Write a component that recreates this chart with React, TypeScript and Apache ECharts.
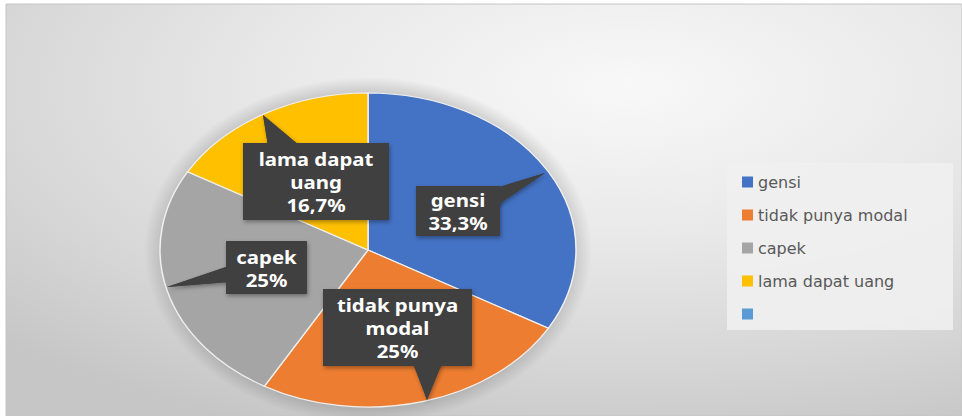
import React, { useEffect, useRef } from "react";
import * as echarts from "echarts";

// ---- data ----
const categories = ["gensi", "tidak punya modal", "capek", "lama dapat uang", "\u00a0"];
const values = [33.3, 25, 25, 16.7, 0];
const colors = ["#4472C4", "#ED7D31", "#A5A5A5", "#FFC000", "#5B9BD5"];

// ---- layout (not data) ----
const PIE_CX = 368;
const PIE_CY = 250;
const PIE_RX = 208;
const PIE_RY = 157;
const HALO = 16;

// callout boxes placed by hand as in the original (one per category)
const calloutBoxes = [
  { x: 416, y: 186, w: 84, h: 50, pointer: [[496, 188], [545, 173], [496, 206]] },
  { x: 323, y: 289, w: 149, h: 77, pointer: [[413, 363], [427, 400], [442, 363]] },
  { x: 226, y: 241, w: 81, h: 53, pointer: [[229, 266], [167, 287], [229, 282]] },
  { x: 243, y: 143, w: 146, h: 77, pointer: [[268, 146], [263, 115], [300, 146]] },
];

function wrapLabel(name: string, max = 11): string {
  const words = name.split(" ");
  const lines: string[] = [];
  let cur = "";
  for (const w of words) {
    if (cur && (cur + " " + w).length > max) {
      lines.push(cur);
      cur = w;
    } else {
      cur = cur ? cur + " " + w : w;
    }
  }
  if (cur) lines.push(cur);
  return lines.join("\n");
}

function fmtPct(v: number): string {
  return (Number.isInteger(v) ? String(v) : v.toFixed(1).replace(".", ",")) + "%";
}

export default function App() {
  const ref = useRef<HTMLDivElement>(null);

  useEffect(() => {
    if (!ref.current) return;
    const chart = echarts.init(ref.current, undefined, { renderer: "svg" });
    const total = values.reduce((a, b) => a + b, 0);

    const boxShadow = {
      shadowBlur: 4,
      shadowOffsetX: 1,
      shadowOffsetY: 2,
      shadowColor: "rgba(0,0,0,0.35)",
    };

    const calloutElements: any[] = [];
    calloutBoxes.forEach((b, i) => {
      if (!values[i]) return;
      calloutElements.push({
        type: "polygon",
        z: 50,
        shape: { points: b.pointer },
        style: { fill: "#404040", ...boxShadow },
      });
      calloutElements.push({
        type: "rect",
        z: 51,
        shape: { x: b.x, y: b.y, width: b.w, height: b.h },
        style: { fill: "#404040", ...boxShadow },
      });
      calloutElements.push({
        type: "polygon",
        z: 52,
        shape: { points: b.pointer },
        style: { fill: "#404040" },
      });
      calloutElements.push({
        type: "text",
        z: 53,
        x: b.x + b.w / 2,
        y: b.y + b.h / 2 + 1,
        scaleX: 1.2,
        style: {
          text: wrapLabel(categories[i]) + "\n" + fmtPct(values[i]),
          fill: "#ffffff",
          font: 'bold 17px "Noto Sans"',
          lineHeight: 23,
          align: "center",
          verticalAlign: "middle",
          textAlign: "center",
          textVerticalAlign: "middle",
        },
      });
    });

    const haloEdge = PIE_RX / (PIE_RX + HALO);

    chart.setOption({
      animation: false,
      color: colors,
      legend: {
        orient: "vertical",
        left: 742,
        top: 174,
        padding: 0,
        itemWidth: 11,
        itemHeight: 11,
        itemGap: 17,
        icon: "rect",
        selectedMode: false,
        data: categories,
        textStyle: {
          fontFamily: "DejaVu Sans",
          fontSize: 16,
          lineHeight: 16,
          color: "#595959",
        },
      },
      graphic: [
        {
          type: "rect",
          z: -10,
          shape: { x: 6, y: 4, width: 956, height: 412 },
          style: {
            fill: {
              type: "radial",
              x: 0.65,
              y: 0.2,
              r: 0.9,
              colorStops: [
                { offset: 0, color: "#f8f8f8" },
                { offset: 0.4, color: "#e9e9e9" },
                { offset: 0.75, color: "#d6d6d6" },
                { offset: 1, color: "#c6c6c6" },
              ],
            },
            stroke: "#c4c4c4",
            lineWidth: 1,
          },
        },
        {
          type: "ellipse",
          z: -6,
          shape: { cx: PIE_CX, cy: PIE_CY, rx: PIE_RX + HALO, ry: PIE_RY + HALO },
          style: {
            fill: {
              type: "radial",
              x: 0.5,
              y: 0.5,
              r: 0.5,
              colorStops: [
                { offset: 0, color: "rgba(0,0,0,0.15)" },
                { offset: haloEdge - 0.01, color: "rgba(0,0,0,0.13)" },
                { offset: 1, color: "rgba(0,0,0,0)" },
              ],
            },
          },
        },
        {
          type: "rect",
          z: -5,
          shape: { x: 727, y: 163, width: 226, height: 167 },
          style: { fill: "rgba(240,240,240,0.9)" },
        },
        ...calloutElements,
      ],
      series: [
        {
          type: "custom",
          name: "pie",
          coordinateSystem: "none",
          data: values,
          z: 2,
          renderItem: (params: any, api: any) => {
            const idx = params.dataIndex;
            const v = api.value(0);
            if (!v) return null;
            let before = 0;
            for (let k = 0; k < idx; k++) before += values[k];
            const start = -Math.PI / 2 + (before / total) * Math.PI * 2;
            const end = start + (v / total) * Math.PI * 2;
            return {
              type: "sector",
              x: PIE_CX,
              y: PIE_CY,
              scaleY: PIE_RY / PIE_RX,
              shape: { cx: 0, cy: 0, r0: 0, r: PIE_RX, startAngle: start, endAngle: end, clockwise: true },
              style: {
                fill: colors[idx],
                stroke: "#f0f0f0",
                lineWidth: 1.5,
                strokeNoScale: true,
              },
            };
          },
        },
        {
          type: "pie",
          name: "legendHolder",
          radius: [0, 0],
          center: [-50, -50],
          silent: true,
          label: { show: false },
          labelLine: { show: false },
          data: categories.map((c, i) => ({ name: c, value: values[i] })),
        },
      ],
    });

    return () => chart.dispose();
  }, []);

  return (
    <div
      ref={ref}
      style={{ position: "fixed", left: 0, top: 0, width: 962, height: 416, background: "#ffffff" }}
    />
  );
}
